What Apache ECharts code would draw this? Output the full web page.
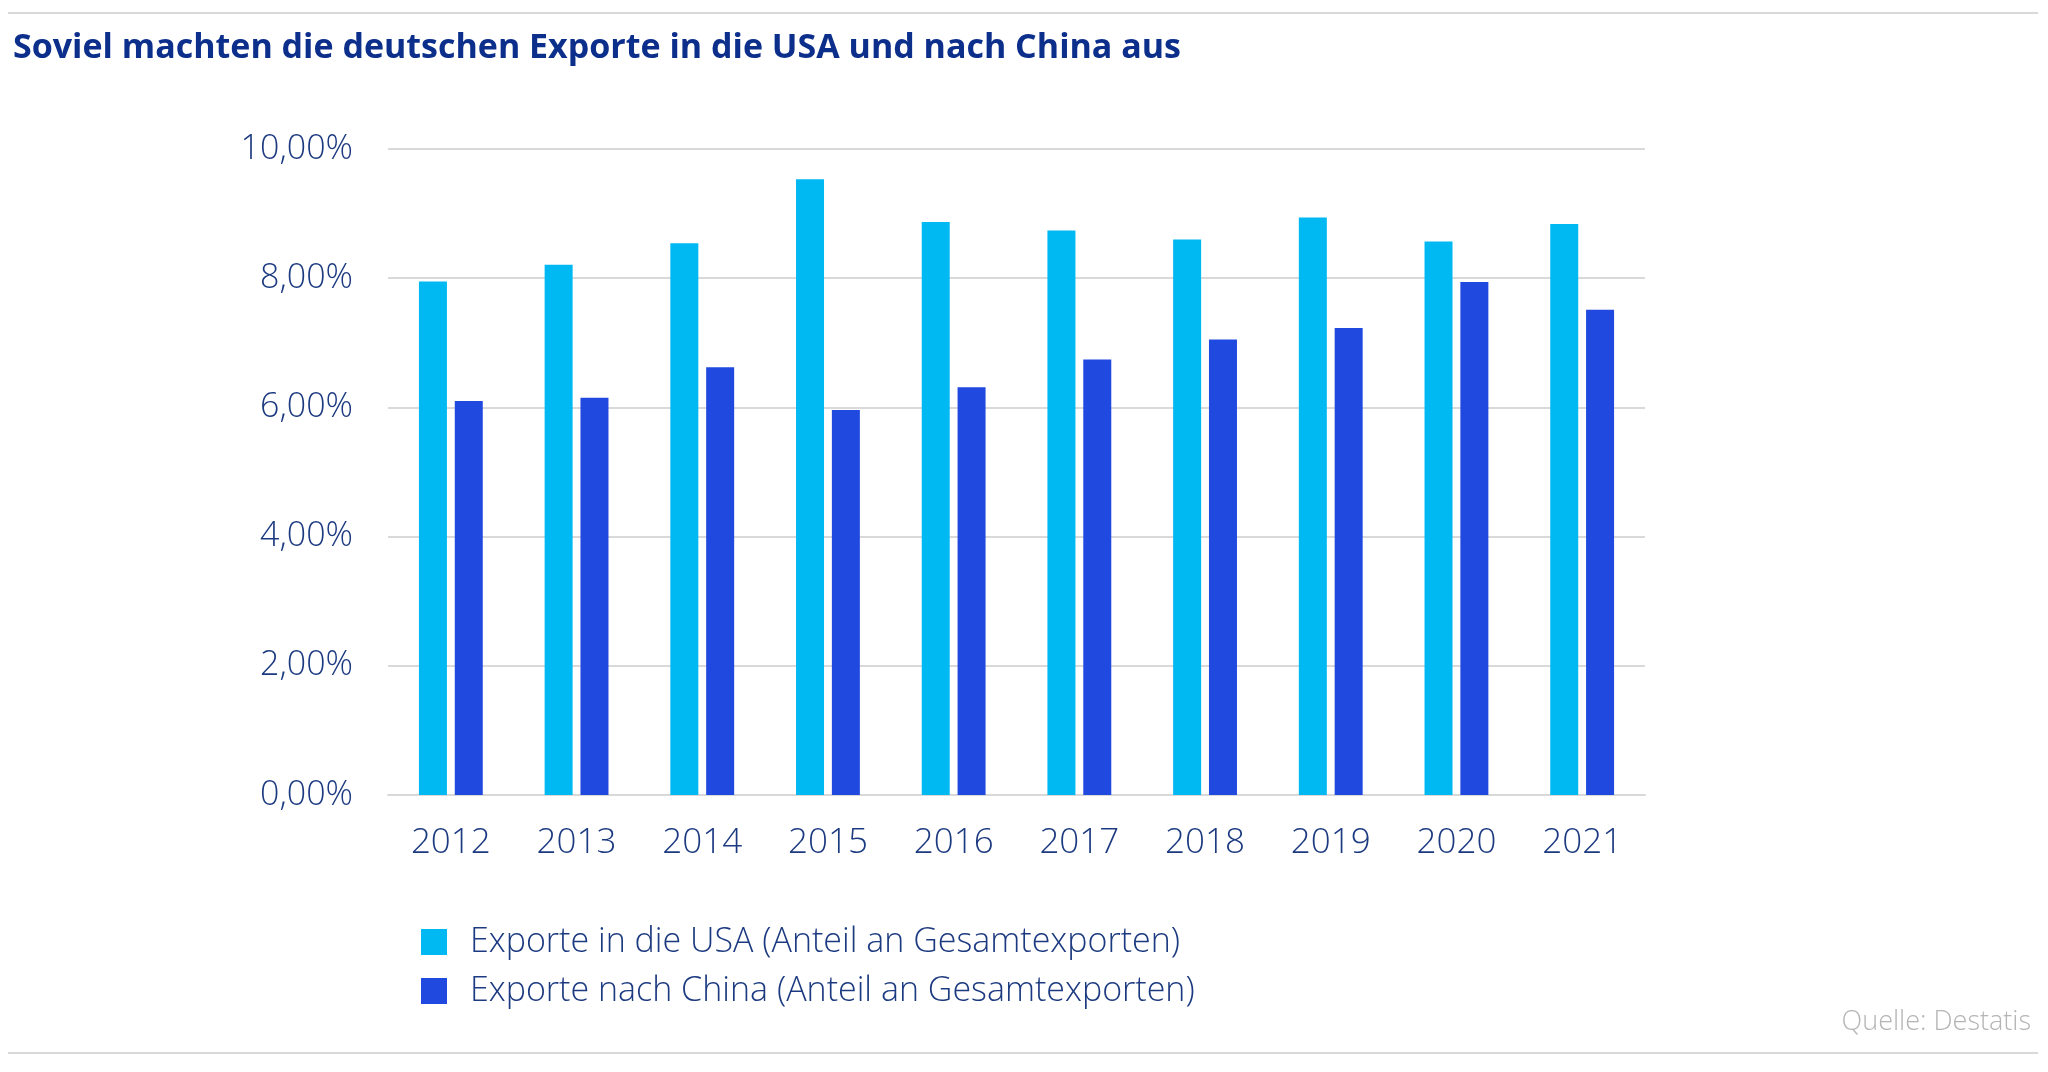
<!DOCTYPE html>
<html>
<head>
<meta charset="utf-8">
<title>Exporte USA / China</title>
<script src="https://cdn.jsdelivr.net/npm/echarts@6/dist/echarts.min.js"></script>
<style>
  html, body { margin: 0; padding: 0; background: #fff; }
  #chart { width: 2048px; height: 1072px; }
</style>
</head>
<body>
<div id="chart"></div>
<script>
// Daten (Anteil an Gesamtexporten in %)
const years = ['2012', '2013', '2014', '2015', '2016', '2017', '2018', '2019', '2020', '2021'];
const usaShare = [7.95, 8.21, 8.54, 9.53, 8.87, 8.74, 8.60, 8.94, 8.57, 8.84];
const chinaShare = [6.10, 6.15, 6.62, 5.96, 6.31, 6.74, 7.05, 7.23, 7.94, 7.51];
const yTicks = [0, 2, 4, 6, 8, 10];

const navy = '#1c3a80';
const font = '"Open Sans", sans-serif';

const chart = echarts.init(document.getElementById('chart'));

const option = {
  backgroundColor: '#ffffff',
  animation: false,
  title: [
    {
      text: 'Soviel machten die deutschen Exporte in die USA und nach China aus',
      left: 8,
      top: 26,
      textStyle: { fontFamily: font, fontWeight: 'bold', fontSize: 34, color: '#0d2f8c' }
    },
    {
      text: 'Quelle: Destatis',
      right: 12,
      top: 1004,
      textStyle: { fontFamily: font, fontWeight: 300, fontSize: 27, color: '#b5b5b5' }
    }
  ],
  // graue Trennlinien oben und unten
  graphic: [
    { type: 'line', shape: { x1: 8, y1: 13, x2: 2038, y2: 13 }, style: { stroke: '#d9d9d9', lineWidth: 2 } },
    { type: 'line', shape: { x1: 8, y1: 1053, x2: 2038, y2: 1053 }, style: { stroke: '#d9d9d9', lineWidth: 2 } }
  ],
  legend: {
    orient: 'vertical',
    left: 416,
    top: 920,
    itemWidth: 26,
    itemHeight: 26,
    itemGap: 15,
    icon: 'rect',
    textStyle: { fontFamily: font, fontWeight: 300, fontSize: 34, color: navy, padding: [0, 0, 0, 18] },
    data: ['Exporte in die USA (Anteil an Gesamtexporten)', 'Exporte nach China (Anteil an Gesamtexporten)']
  },
  grid: { left: 388, right: 403, top: 149, bottom: 277 },
  xAxis: {
    type: 'category',
    data: years,
    axisLine: { lineStyle: { color: '#d9d9d9', width: 2 } },
    axisTick: { show: false },
    axisLabel: { fontFamily: font, fontWeight: 300, fontSize: 35, color: navy, margin: 31 }
  },
  yAxis: {
    type: 'value',
    min: yTicks[0],
    max: yTicks[yTicks.length - 1],
    interval: 2,
    axisLine: { show: false },
    axisTick: { show: false },
    splitLine: { lineStyle: { color: '#d9d9d9', width: 2 } },
    axisLabel: {
      fontFamily: font, fontWeight: 300, fontSize: 34, color: navy, margin: 35,
      formatter: v => v.toFixed(2).replace('.', ',') + '%'
    }
  },
  series: [
    {
      name: 'Exporte in die USA (Anteil an Gesamtexporten)',
      type: 'bar',
      data: usaShare,
      barWidth: 28,
      barGap: '28%',
      itemStyle: { color: '#00b9f2' }
    },
    {
      name: 'Exporte nach China (Anteil an Gesamtexporten)',
      type: 'bar',
      data: chinaShare,
      barWidth: 28,
      itemStyle: { color: '#2049e0' }
    }
  ]
};

chart.setOption(option);
</script>
</body>
</html>
